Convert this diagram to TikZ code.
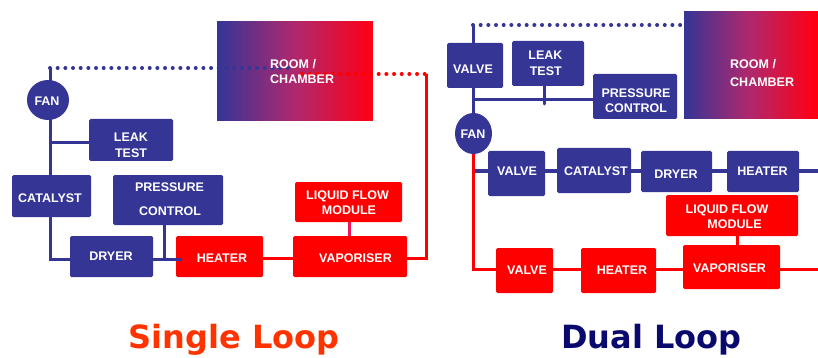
\documentclass[tikz,border=0pt]{standalone}
\usepackage{fontspec}
\setmainfont{Liberation Sans}
\newfontfamily\titlefont{DejaVu Sans}
\usetikzlibrary{shapes.geometric}
\pgfdeclarelayer{mid}
\pgfdeclarelayer{front}
\pgfsetlayers{mid,main,front}
\definecolor{lblue}{RGB}{53,53,150}
\definecolor{lred}{RGB}{255,0,0}
\definecolor{lpink}{RGB}{240,20,90}
\definecolor{orng}{RGB}{255,51,0}
\definecolor{navy}{RGB}{10,10,110}
\definecolor{chred}{RGB}{255,0,20}
\definecolor{chmid}{RGB}{175,40,110}
\tikzset{
  bbox/.style={fill=lblue, rounded corners=1.5pt, inner sep=0pt, draw=none},
  rbox/.style={fill=lred, rounded corners=1.5pt, inner sep=0pt, draw=none},
  fanbox/.style={ellipse, fill=lblue, inner sep=0pt, draw=none},
  chamber/.style={inner sep=0pt, draw=none},
  lbl/.style={text=white, font=\fontsize{12.5}{15}\selectfont\bfseries, inner sep=0pt, text height=9pt, text depth=0pt},
  bl/.style={draw=lblue, line width=3pt},
  rl/.style={draw=lred, line width=3pt},
  pl/.style={draw=lpink, line width=3pt},
  bdot/.style={draw=lblue, line width=4pt, line cap=round, dash pattern=on 0pt off 7.67pt},
  rdot/.style={draw=lred, line width=4pt, line cap=round, dash pattern=on 0pt off 7.67pt},
  ttl/.style={font=\titlefont\bfseries\fontsize{32}{38}\selectfont, anchor=base, inner sep=0pt}
}
% horizontal gradient blue -> magenta -> red, in slices
% #1 left x, #2 top y, #3 bottom y, #4 number of 2pt slices (even)
\newcommand\gradfill[4]{%
  \pgfmathtruncatemacro\gfhalf{#4/2}%
  \pgfmathtruncatemacro\gflast{#4-1}%
  \foreach \gi in {0,...,\gflast}{%
    \ifnum\gi<\gfhalf
      \pgfmathtruncatemacro\gp{round(100*\gi/(\gfhalf-1))}%
      \colorlet{gfc}{chmid!\gp!lblue}%
    \else
      \pgfmathtruncatemacro\gp{round(100*(\gi-\gfhalf)/(\gfhalf-1))}%
      \colorlet{gfc}{chred!\gp!chmid}%
    \fi
    \fill[gfc] ({#1+2*\gi},#2) rectangle ({#1+2*\gi+2.3},#3);
  }%
}
\begin{document}
\begin{tikzpicture}[x=1pt,y=-1pt]
\useasboundingbox (0,0) rectangle (818,358);

% ================= coordinates =================
\coordinate (trunkL) at (50,68);
\coordinate (dotendL) at (290,68);
\coordinate (jL) at (50,143);
\coordinate (jL2) at (50,259);
\coordinate (jL3) at (164,259);
\coordinate (jL4) at (182,259);
\coordinate (rdotL) at (302,74);
\coordinate (rcornerL) at (426,74);
\coordinate (rjL) at (426,258);
\coordinate (pkL) at (349,230);

\coordinate (trunkR) at (473,25);
\coordinate (jR) at (473,100);
\coordinate (ltR) at (544,104);
\coordinate (rowB) at (473,171);
\coordinate (rowBend) at (818,171);
\coordinate (rowR) at (473,269.5);
\coordinate (rowRend) at (818,269.5);
\coordinate (lvR) at (737,240);

% ================= chambers =================
\gradfill{217}{21}{121}{78}
\gradfill{684}{11}{119}{67}
\node[chamber, minimum width=156pt, minimum height=100pt] (chamberL) at (295,71) {};
\node[chamber, minimum width=134pt, minimum height=108pt] (chamberR) at (751,65) {};

% ================= boxes =================
\node[bbox, minimum width=84pt, minimum height=42pt] (leakL) at (131,140) {};
\node[bbox, minimum width=79pt, minimum height=42pt] (catL) at (51.5,196) {};
\node[bbox, minimum width=110pt, minimum height=50pt] (presL) at (168,200) {};
\node[bbox, minimum width=83pt, minimum height=41pt] (dryL) at (111.5,256.5) {};
\node[rbox, minimum width=87pt, minimum height=41pt] (heatL) at (219.5,256.5) {};
\node[rbox, minimum width=114pt, minimum height=41pt] (vapL) at (350,256.5) {};
\node[rbox, minimum width=107pt, minimum height=40pt] (lfmL) at (348.5,202) {};
\node[fanbox, minimum width=42pt, minimum height=40pt] (fanL) at (48,100) {};

\node[bbox, minimum width=56pt, minimum height=45pt] (valveT) at (475,65.5) {};
\node[bbox, minimum width=72pt, minimum height=45pt] (leakR) at (548,63.5) {};
\node[bbox, minimum width=84pt, minimum height=45pt] (presR) at (635,96.5) {};
\node[fanbox, minimum width=37pt, minimum height=41pt] (fanR) at (473.5,133.5) {};
\node[bbox, minimum width=57pt, minimum height=45pt] (valveB) at (516.5,173.5) {};
\node[bbox, minimum width=74pt, minimum height=45pt] (catR) at (594,170.5) {};
\node[bbox, minimum width=71pt, minimum height=41pt] (dryR) at (676.5,171.5) {};
\node[bbox, minimum width=72pt, minimum height=41pt] (heatR) at (763,171.5) {};
\node[rbox, minimum width=132pt, minimum height=41pt] (lfmR) at (732,215.5) {};
\node[rbox, minimum width=57pt, minimum height=45pt] (valveR) at (524.5,270.5) {};
\node[rbox, minimum width=75pt, minimum height=45pt] (heatR2) at (618.5,270.5) {};
\node[rbox, minimum width=97pt, minimum height=44pt] (vapR) at (731.5,267) {};

% ================= connectors =================
\begin{pgfonlayer}{mid}
% left
\draw[bl] (trunkL) -- (trunkL |- catL.north);
\draw[bl] (jL) -- (jL -| leakL.west);
\draw[bl] (catL.south -| jL2) -- (jL2) -- (jL2 -| dryL.west);
\draw[bl] (presL.south -| jL3) -- (jL3);
\draw[rl] (rcornerL) -- (rjL) -- (rjL -| vapL.east);
\draw[rl] (rjL -| heatL.east) -- (rjL -| vapL.west);
\draw[pl] (lfmL.south -| pkL) -- (vapL.north -| pkL);
% right
\draw[bl] (trunkR) -- (jR);
\draw[bl] (jR) -- (jR -| presR.west);
\draw[bl] (jR) -- (rowB |- fanR.north);
\draw[bl] (rowB) -- (rowBend);
\draw[rl] (rowB |- fanR.south) -- (rowR) -- (rowRend);
\draw[rl] (lvR |- lfmR.south) -- (lvR |- vapR.north);
\end{pgfonlayer}

\begin{pgfonlayer}{front}
\draw[bdot] (trunkL) -- (dotendL);
\draw[rdot] (rdotL) -- (rcornerL);
\draw[bl] (jL3 -| dryL.east) -- (jL4);
\draw[bdot] (trunkR) -- (trunkR -| chamberR.west);
\draw[bl, line cap=round] (leakR.south -| ltR) -- (ltR);

% texts left
\node[lbl, anchor=west] (tRoomL1) at (270,64) {ROOM /};
\node[lbl, anchor=west] (tRoomL2) at (270,79) {CHAMBER};
\node[lbl] (tFanL) at (47,101) {FAN};
\node[lbl] (tLeakL1) at (131,137) {LEAK};
\node[lbl] (tLeakL2) at (131,153) {TEST};
\node[lbl] (tCatL) at (50,198) {CATALYST};
\node[lbl] (tPresL1) at (169.5,187) {PRESSURE};
\node[lbl] (tPresL2) at (170,211) {CONTROL};
\node[lbl] (tDryL) at (111,256) {DRYER};
\node[lbl] (tHeatL) at (222,258) {HEATER};
\node[lbl] (tVapL) at (355.5,258) {VAPORISER};
\node[lbl] (tLfmL1) at (347.5,195) {LIQUID FLOW};
\node[lbl] (tLfmL2) at (349,210) {MODULE};

% texts right
\node[lbl, anchor=west] (tRoomR1) at (730,64) {ROOM /};
\node[lbl, anchor=west] (tRoomR2) at (730,82) {CHAMBER};
\node[lbl] (tValveT) at (473,69) {VALVE};
\node[lbl] (tLeakR1) at (545.5,55) {LEAK};
\node[lbl] (tLeakR2) at (545.8,71) {TEST};
\node[lbl] (tPresR1) at (636,93) {PRESSURE};
\node[lbl] (tPresR2) at (636,108) {CONTROL};
\node[lbl] (tFanR) at (473,134) {FAN};
\node[lbl] (tValveB) at (517,171) {VALVE};
\node[lbl] (tCatR) at (596,171) {CATALYST};
\node[lbl] (tDryR) at (676,174) {DRYER};
\node[lbl] (tHeatR) at (762.5,171) {HEATER};
\node[lbl] (tLfmR1) at (727,209) {LIQUID FLOW};
\node[lbl] (tLfmR2) at (734.5,224) {MODULE};
\node[lbl] (tValveR) at (527,270) {VALVE};
\node[lbl] (tHeatR2) at (622,270) {HEATER};
\node[lbl] (tVapR) at (729.5,268) {VAPORISER};
\end{pgfonlayer}

\node[ttl, text=orng] (single) at (234,348) {Single Loop};
\node[ttl, text=navy] (dual) at (651.5,348) {Dual Loop};
\end{tikzpicture}
\end{document}
